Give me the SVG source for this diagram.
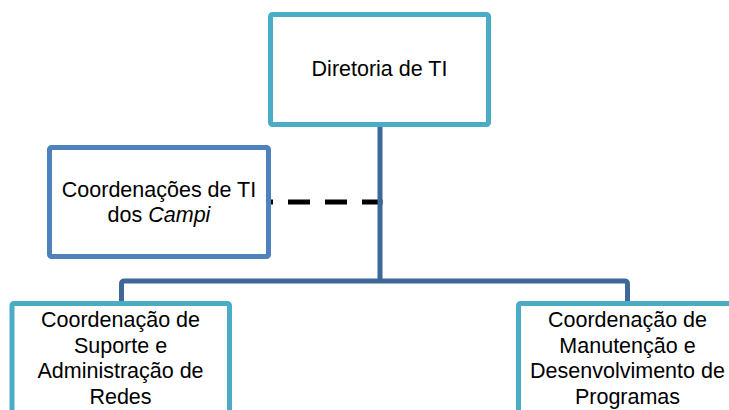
<svg xmlns="http://www.w3.org/2000/svg" width="729" height="410" viewBox="0 0 729 410">
<style>
.box{fill:#fff;stroke-width:5;stroke-linejoin:round}
.teal{stroke:#4BACC6}
.blue{stroke:#4F81BD}
.conn{fill:none;stroke:#3F6797;stroke-width:5;stroke-linejoin:round}
.dash{fill:none;stroke:#000;stroke-width:5;stroke-dasharray:22,15;stroke-dashoffset:1.5}
text{font-family:"Liberation Sans",Arial,sans-serif;font-size:21.5px;fill:#000;text-anchor:middle}
</style>
<g id="connectors">
<path class="dash" d="M382.5,202 H271"/>
<path class="conn" d="M380,124 V281"/>
<path class="conn" d="M121.5,303 V284 Q121.5,281 124.5,281 H624.5 Q627.5,281 627.5,284 V303"/>
</g>
<g id="diretoria">
<rect class="box teal" x="270.5" y="14.5" width="218" height="110" rx="2"/>
<text x="379.5" y="76">Diretoria de TI</text>
</g>
<g id="campi">
<rect class="box blue" x="49.5" y="147.5" width="219" height="109" rx="2"/>
<text x="159" y="196.5">Coordenações de TI</text>
<text x="159" y="221.5">dos <tspan font-style="italic">Campi</tspan></text>
</g>
<g id="suporte">
<rect class="box teal" x="12" y="303.5" width="217.5" height="130" rx="2"/>
<text x="120.5" y="327">Coordenação de</text>
<text x="120.5" y="352.5">Suporte e</text>
<text x="120.5" y="378">Administração de</text>
<text x="120.5" y="403.5">Redes</text>
</g>
<g id="manutencao">
<rect class="box teal" x="518.5" y="303.5" width="218" height="130" rx="2"/>
<text x="627.5" y="327">Coordenação de</text>
<text x="627.5" y="352.5">Manutenção e</text>
<text x="627.5" y="378">Desenvolvimento de</text>
<text x="627.5" y="403.5">Programas</text>
</g>
</svg>
